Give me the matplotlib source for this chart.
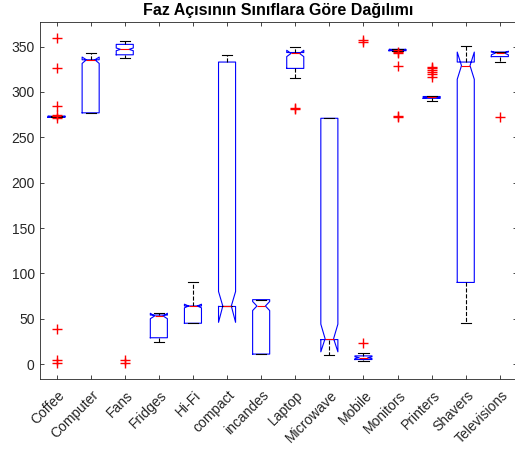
import numpy as np
import matplotlib.pyplot as plt
import matplotlib.transforms as mtransforms

plt.rcParams['font.family'] = ['Liberation Sans', 'DejaVu Sans']

## ============ Data ============ ##
labels = ['Coffee', 'Computer', 'Fans', 'Fridges', 'Hi-Fi', 'compact', 'incandes',
          'Laptop', 'Microwave', 'Mobile', 'Monitors', 'Printers', 'Shavers', 'Televisions']

q1   = [272.0, 277.0, 341.0, 29.0, 45.0, 63.5, 11.0, 326.0, 27.0, 5.0, 345.5, 293.0, 90.0, 339.0]
med  = [273.0, 335.5, 347.0, 53.0, 64.0, 64.0, 64.0, 342.5, 28.0, 7.0, 346.5, 294.0, 329.0, 343.0]
q3   = [273.0, 335.5, 352.5, 54.0, 64.0, 333.0, 71.0, 343.5, 271.0, 9.0, 347.0, 295.0, 333.0, 344.0]
wlo  = [272.0, 277.0, 338.0, 24.0, 45.0, 63.5, 11.0, 315.0, 10.5, 3.0, 345.5, 290.5, 45.0, 333.0]
whi  = [273.0, 343.0, 356.5, 56.0, 90.0, 341.0, 71.0, 350.0, 271.0, 12.5, 347.0, 296.0, 351.0, 344.0]
cilo = [272.5, 331.5, 345.5, 50.0, 62.0, 46.0, 59.0, 339.0, 13.5, 6.0, 346.0, 293.5, 314.0, 341.0]
cihi = [273.5, 338.5, 348.5, 56.0, 66.0, 80.0, 69.0, 346.0, 44.0, 8.0, 347.0, 294.5, 344.0, 345.0]
fliers = [
    [359, 326, 284, 275, 271, 39, 5, 1.5],
    [],
    [5, 1.5],
    [],
    [],
    [],
    [],
    [282, 281],
    [],
    [23.5, 357, 355],
    [344.5, 343, 329, 273, 272],
    [328, 326, 324, 322, 320, 316],
    [],
    [272],
]

## ======================= Plot =========================== ##
stats = []
for i in range(len(labels)):
    stats.append(dict(label=labels[i], q1=q1[i], med=med[i], q3=q3[i],
                      whislo=wlo[i], whishi=whi[i], cilo=cilo[i], cihi=cihi[i],
                      fliers=fliers[i]))

pos = np.arange(1, len(labels) + 1)

fig = plt.figure(figsize=(5.15, 4.51), dpi=100)
ax = fig.add_axes([0.0767, 0.1596, 0.927, 0.7923])

axcol = '#262626'
ax.bxp(stats, positions=pos, widths=0.5,
       shownotches=True, capwidths=0.3,
       boxprops=dict(color='blue', linewidth=0.8),
       medianprops=dict(color='red', linewidth=0.8),
       whiskerprops=dict(color='black', linewidth=0.8, linestyle='--'),
       capprops=dict(color='black', linewidth=0.8),
       flierprops=dict(marker='+', markeredgecolor='red', markersize=7,
                       markeredgewidth=1.0, linestyle='none'))

ax.set_xlim(0.5, len(labels) + 0.5)
ax.set_ylim(-16.5, 377.5)
ax.set_yticks(np.arange(0, 351, 50))
ax.set_xticks(pos)
ax.set_xticklabels([])

# x labels drawn as text so their ends sit just right of the ticks (MATLAB style)
trans = mtransforms.blended_transform_factory(ax.transData, ax.transAxes) + \
    mtransforms.ScaledTranslation(0.06, -0.14, fig.dpi_scale_trans)
for p, lab in zip(pos, labels):
    ax.text(p, 0, lab, transform=trans, rotation=45, ha='right', va='center',
            rotation_mode='anchor', fontsize=10, color=axcol, clip_on=False)

ax.tick_params(direction='in', length=3, width=0.6, colors=axcol, labelsize=10,
               top=True, right=True)
for s in ax.spines.values():
    s.set_color(axcol)
    s.set_linewidth(0.6)

ax.set_title('Faz Açısının Sınıflara Göre Dağılımı', fontsize=11.5, fontweight='bold', pad=5)

plt.savefig('out.png', dpi=100)
